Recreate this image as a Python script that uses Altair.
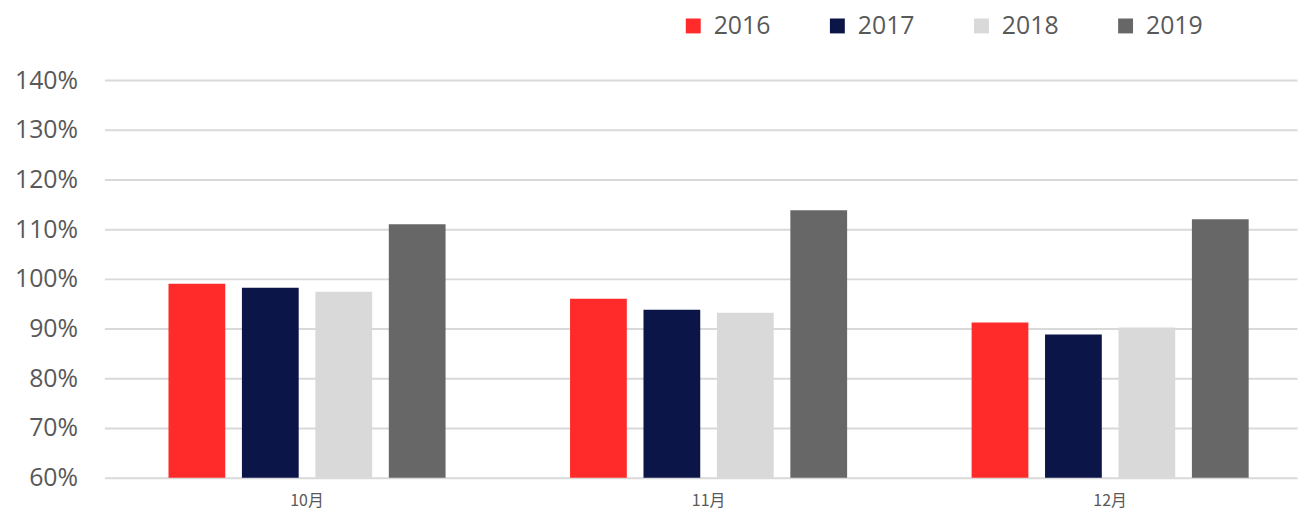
import altair as alt
import pandas as pd

months = ["10月", "11月", "12月"]
years = ["2016", "2017", "2018", "2019"]
values = {
    "2016": [99.0, 96.0, 91.2],
    "2017": [98.2, 93.8, 88.8],
    "2018": [97.4, 93.2, 90.2],
    "2019": [111.0, 113.8, 112.0],
}
colors = ["#FF2B2B", "#0B1548", "#D9D9D9", "#676767"]
y_ticks = [60, 70, 80, 90, 100, 110, 120, 130, 140]

rows = []
for y in years:
    for m, v in zip(months, values[y]):
        rows.append({"month": m, "year": y, "value": v})
df = pd.DataFrame(rows)

chart = alt.Chart(df).mark_bar().encode(
    x=alt.X("month:N", sort=months, title=None,
            scale=alt.Scale(paddingInner=0.31, paddingOuter=0.14, align=0.57),
            axis=alt.Axis(labelAngle=0, labelFont="Noto Sans CJK SC", labelFontSize=16,
                          labelColor="#595959", ticks=False, domain=False, labelPadding=15)),
    xOffset=alt.XOffset("year:N", sort=years,
                        scale=alt.Scale(paddingInner=0.227, paddingOuter=0)),
    y=alt.Y("value:Q", title=None,
            scale=alt.Scale(domain=[60, 140], zero=False, nice=False),
            axis=alt.Axis(values=y_ticks, labelExpr="datum.value + '%'",
                          labelFont="Open Sans", labelFontSize=25, labelColor="#595959",
                          ticks=False, domain=False, labelPadding=27,
                          gridColor="#D9D9D9", gridWidth=2)),
    y2=alt.datum(60),
    color=alt.Color("year:N", sort=years, title=None,
                    scale=alt.Scale(domain=years, range=colors),
                    legend=alt.Legend(orient="none", legendX=580, legendY=-67,
                                      direction="horizontal", symbolType="square",
                                      symbolSize=225, symbolStrokeWidth=0,
                                      labelFont="Open Sans", labelFontSize=25,
                                      labelColor="#595959", labelOffset=8,
                                      labelLimit=0, gridAlign="none",
                                      columnPadding=54)),
).properties(
    width=1200, height=400,
    background="white",
    autosize=alt.AutoSizeParams(type="none"),
    padding={"left": 97, "top": 71, "right": 3, "bottom": 33},
).configure_view(stroke=None)

chart.save("out.html", embed_options={"renderer": "svg", "actions": False})
